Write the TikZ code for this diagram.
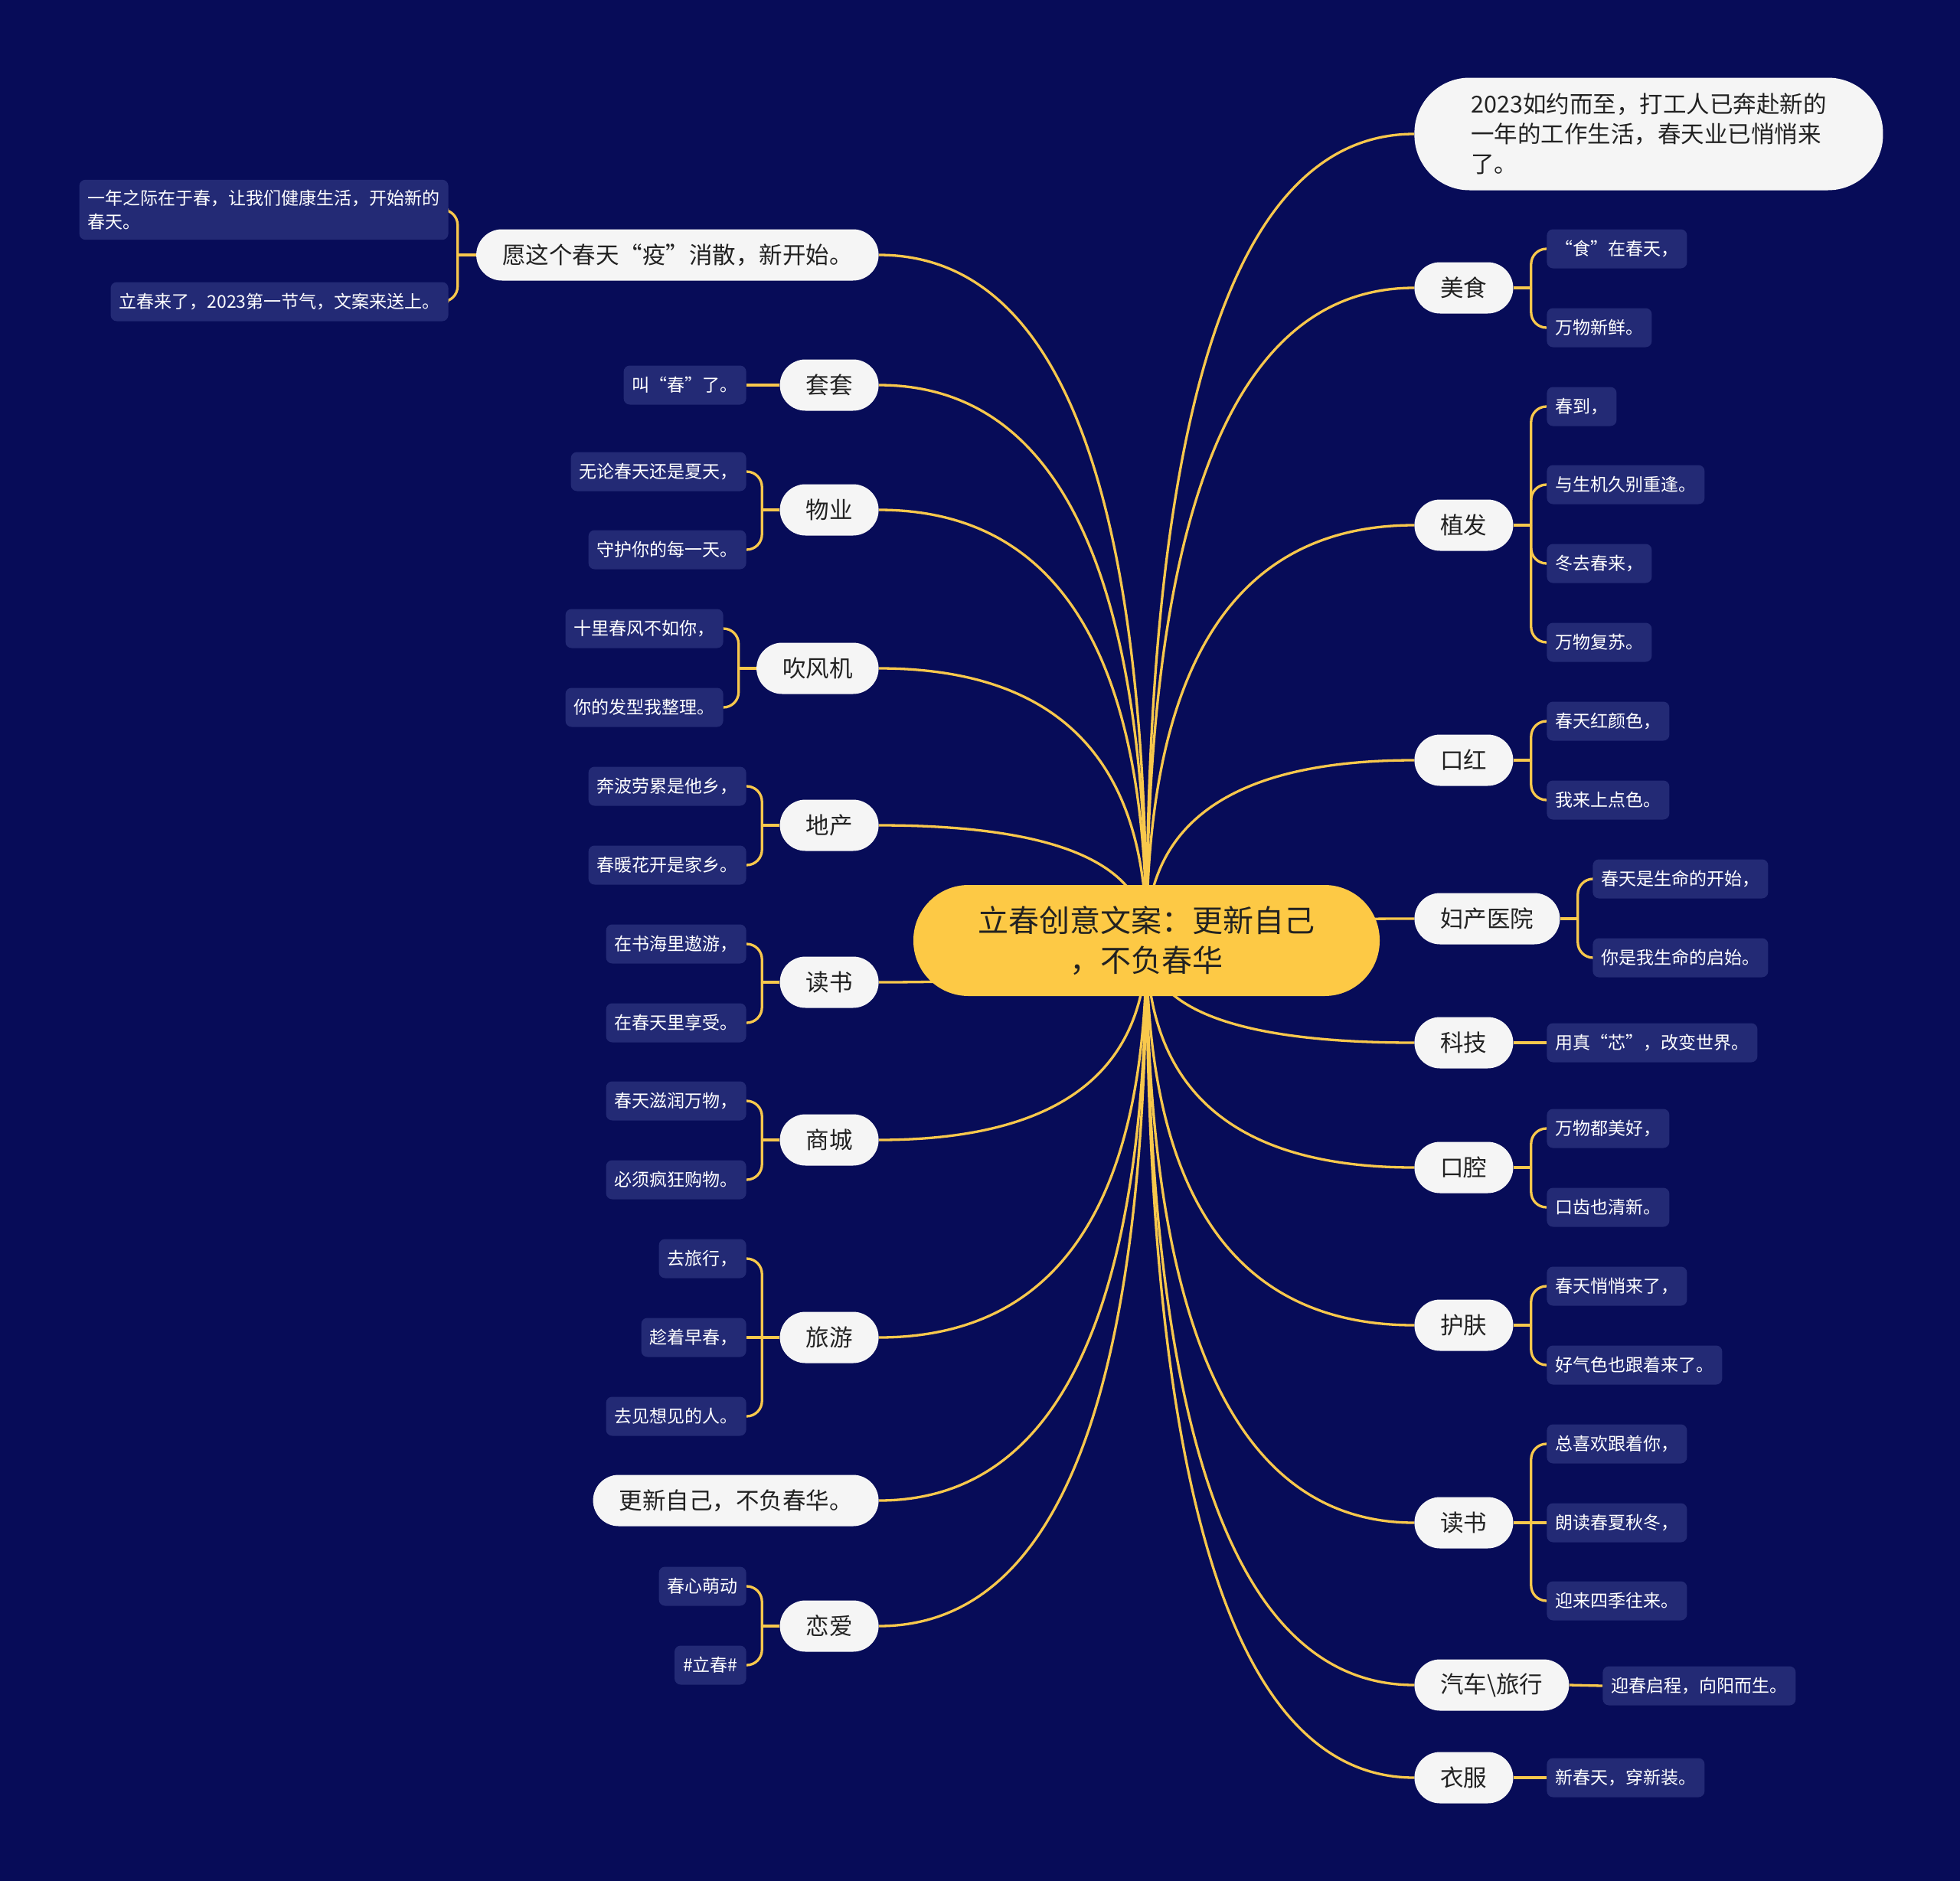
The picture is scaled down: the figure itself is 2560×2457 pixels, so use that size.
\documentclass[tikz,border=0pt]{standalone}
\usepackage{fontspec}
\setmainfont{Noto Sans CJK SC}
\usetikzlibrary{calc}
\definecolor{bgc}{HTML}{070C58}
\definecolor{leafc}{HTML}{232A75}
\definecolor{linec}{HTML}{F8C84C}
\definecolor{ctrc}{HTML}{FDC945}
\definecolor{mainc}{HTML}{F5F5F5}
\definecolor{txtc}{HTML}{222222}
\pgfdeclarelayer{bg}
\pgfdeclarelayer{lines}
\pgfsetlayers{bg,lines,main}
\tikzset{
  mainbox/.style={fill=mainc, text=txtc, rounded corners=16.75pt, minimum height=33.5pt, inner xsep=17pt, inner ysep=0pt, font=\fontsize{15.25}{19.5}\selectfont},
  leafbox/.style={fill=leafc, text=white, rounded corners=4pt, minimum height=25.5pt, inner xsep=5.5pt, inner ysep=6.5pt, font=\fontsize{11.5}{15.5}\selectfont, align=left},
  conn/.style={draw=linec, line width=1.65pt},
  brk/.style={conn, rounded corners=10pt},
}
\newcommand\mconn[1]{%
  \draw[conn] (ctr.center) .. controls ($(ctr.center)!2/3!(ctr.center |- #1)$) and ($(#1)!2/3!(ctr.center |- #1)$) .. (#1);}
\begin{document}
\begin{tikzpicture}[x=0.5pt, y=-0.5pt]
\useasboundingbox (0,0) rectangle (2560,2457);
\begin{pgfonlayer}{bg}
\fill[bgc] (0,0) rectangle (2560,2457);
\end{pgfonlayer}

% center
\node[fill=ctrc, text=txtc, rounded corners=36pt, minimum width=304.5pt, minimum height=72.5pt, align=center, font=\fontsize{20}{26}\selectfont] (ctr) at (1497.5,1228.5) {立春创意文案：更新自己\\，不负春华};

% left main nodes
\node[mainbox, anchor=east] (l1) at (1148,333) {愿这个春天“疫”消散，新开始。};
\node[mainbox, anchor=east] (l2) at (1148,503) {套套};
\node[mainbox, anchor=east] (l3) at (1148,666) {物业};
\node[mainbox, anchor=east] (l4) at (1148,873) {吹风机};
\node[mainbox, anchor=east] (l5) at (1148,1078) {地产};
\node[mainbox, anchor=east] (l6) at (1148,1283) {读书};
\node[mainbox, anchor=east] (l7) at (1148,1489) {商城};
\node[mainbox, anchor=east] (l8) at (1148,1747) {旅游};
\node[mainbox, anchor=east] (l9) at (1148,1960) {更新自己，不负春华。};
\node[mainbox, anchor=east] (l10) at (1148,2124) {恋爱};

% right main nodes
\node[mainbox, anchor=west, minimum width=306pt, minimum height=73.5pt, rounded corners=36pt, align=left] (r1) at (1847,175) {2023如约而至，打工人已奔赴新的\\一年的工作生活，春天业已悄悄来\\了。};
\node[mainbox, anchor=west] (r2) at (1847,376) {美食};
\node[mainbox, anchor=west] (r3) at (1847,686) {植发};
\node[mainbox, anchor=west] (r4) at (1847,993) {口红};
\node[mainbox, anchor=west] (r5) at (1847,1200) {妇产医院};
\node[mainbox, anchor=west] (r6) at (1847,1362) {科技};
\node[mainbox, anchor=west] (r7) at (1847,1525) {口腔};
\node[mainbox, anchor=west] (r8) at (1847,1731) {护肤};
\node[mainbox, anchor=west] (r9) at (1847,1989) {读书};
\node[mainbox, anchor=west] (r10) at (1847,2201) {汽车\textbackslash 旅行};
\node[mainbox, anchor=west] (r11) at (1847,2322) {衣服};

% left leaves
\node[leafbox, anchor=east] (l1a) at (586,274) {一年之际在于春，让我们健康生活，开始新的\\春天。};
\node[leafbox, anchor=east] (l1b) at (586,394) {立春来了，2023第一节气，文案来送上。};
\node[leafbox, anchor=east] (l2a) at (975,503) {叫“春”了。};
\node[leafbox, anchor=east] (l3a) at (975,616) {无论春天还是夏天，};
\node[leafbox, anchor=east] (l3b) at (975,718) {守护你的每一天。};
\node[leafbox, anchor=east] (l4a) at (945,821) {十里春风不如你，};
\node[leafbox, anchor=east] (l4b) at (945,924) {你的发型我整理。};
\node[leafbox, anchor=east] (l5a) at (975,1027) {奔波劳累是他乡，};
\node[leafbox, anchor=east] (l5b) at (975,1130) {春暖花开是家乡。};
\node[leafbox, anchor=east] (l6a) at (975,1233) {在书海里遨游，};
\node[leafbox, anchor=east] (l6b) at (975,1336) {在春天里享受。};
\node[leafbox, anchor=east] (l7a) at (975,1438) {春天滋润万物，};
\node[leafbox, anchor=east] (l7b) at (975,1541) {必须疯狂购物。};
\node[leafbox, anchor=east] (l8a) at (975,1644) {去旅行，};
\node[leafbox, anchor=east] (l8b) at (975,1747) {趁着早春，};
\node[leafbox, anchor=east] (l8c) at (975,1850) {去见想见的人。};
\node[leafbox, anchor=east] (l10a) at (975,2072) {春心萌动};
\node[leafbox, anchor=east] (l10b) at (975,2175) {\#立春\#};

% right leaves
\node[leafbox, anchor=west] (r2a) at (2020,325) {“食”在春天，};
\node[leafbox, anchor=west] (r2b) at (2020,428) {万物新鲜。};
\node[leafbox, anchor=west] (r3a) at (2020,531) {春到，};
\node[leafbox, anchor=west] (r3b) at (2020,633) {与生机久别重逢。};
\node[leafbox, anchor=west] (r3c) at (2020,736) {冬去春来，};
\node[leafbox, anchor=west] (r3d) at (2020,839) {万物复苏。};
\node[leafbox, anchor=west] (r4a) at (2020,942) {春天红颜色，};
\node[leafbox, anchor=west] (r4b) at (2020,1045) {我来上点色。};
\node[leafbox, anchor=west] (r5a) at (2080,1148) {春天是生命的开始，};
\node[leafbox, anchor=west] (r5b) at (2080,1251) {你是我生命的启始。};
\node[leafbox, anchor=west] (r6a) at (2020,1362) {用真“芯”，改变世界。};
\node[leafbox, anchor=west] (r7a) at (2020,1474) {万物都美好，};
\node[leafbox, anchor=west] (r7b) at (2020,1577) {口齿也清新。};
\node[leafbox, anchor=west] (r8a) at (2020,1680) {春天悄悄来了，};
\node[leafbox, anchor=west] (r8b) at (2020,1783) {好气色也跟着来了。};
\node[leafbox, anchor=west] (r9a) at (2020,1886) {总喜欢跟着你，};
\node[leafbox, anchor=west] (r9b) at (2020,1989) {朗读春夏秋冬，};
\node[leafbox, anchor=west] (r9c) at (2020,2091) {迎来四季往来。};
\node[leafbox, anchor=west] (r10a) at (2093,2202) {迎春启程，向阳而生。};
\node[leafbox, anchor=west] (r11a) at (2020,2322) {新春天，穿新装。};

\begin{pgfonlayer}{lines}
% center connectors
\mconn{l1.east}\mconn{l2.east}\mconn{l3.east}\mconn{l4.east}\mconn{l5.east}
\mconn{l6.east}\mconn{l7.east}\mconn{l8.east}\mconn{l9.east}\mconn{l10.east}
\mconn{r1.west}\mconn{r2.west}\mconn{r3.west}\mconn{r4.west}\mconn{r5.west}
\mconn{r6.west}\mconn{r7.west}\mconn{r8.west}\mconn{r9.west}\mconn{r10.west}\mconn{r11.west}

% left brackets
\coordinate (j1) at ($(l1.west)+(-24,0)$);
\draw[conn] (l1.west) -- (j1);
\draw[brk] (j1) |- (l1a.east);
\draw[brk] (j1) |- (l1b.east);
\draw[conn] (l2.west) -- (l2a.east);
\coordinate (j3) at ($(l3.west)+(-23,0)$);
\draw[conn] (l3.west) -- (j3);
\draw[brk] (j3) |- (l3a.east);
\draw[brk] (j3) |- (l3b.east);
\coordinate (j4) at ($(l4.west)+(-23,0)$);
\draw[conn] (l4.west) -- (j4);
\draw[brk] (j4) |- (l4a.east);
\draw[brk] (j4) |- (l4b.east);
\coordinate (j5) at ($(l5.west)+(-23,0)$);
\draw[conn] (l5.west) -- (j5);
\draw[brk] (j5) |- (l5a.east);
\draw[brk] (j5) |- (l5b.east);
\coordinate (j6) at ($(l6.west)+(-23,0)$);
\draw[conn] (l6.west) -- (j6);
\draw[brk] (j6) |- (l6a.east);
\draw[brk] (j6) |- (l6b.east);
\coordinate (j7) at ($(l7.west)+(-23,0)$);
\draw[conn] (l7.west) -- (j7);
\draw[brk] (j7) |- (l7a.east);
\draw[brk] (j7) |- (l7b.east);
\coordinate (j8) at ($(l8.west)+(-23,0)$);
\draw[conn] (l8.west) -- (l8b.east);
\draw[brk] (j8) |- (l8a.east);
\draw[brk] (j8) |- (l8c.east);
\coordinate (j10) at ($(l10.west)+(-23,0)$);
\draw[conn] (l10.west) -- (j10);
\draw[brk] (j10) |- (l10a.east);
\draw[brk] (j10) |- (l10b.east);

% right brackets
\coordinate (k2) at ($(r2.east)+(23,0)$);
\draw[conn] (r2.east) -- (k2);
\draw[brk] (k2) |- (r2a.west);
\draw[brk] (k2) |- (r2b.west);
\coordinate (k3) at ($(r3.east)+(23,0)$);
\draw[conn] (r3.east) -- (k3);
\draw[brk] (k3) |- (r3a.west);
\draw[brk] (k3) |- (r3b.west);
\draw[brk] (k3) |- (r3c.west);
\draw[brk] (k3) |- (r3d.west);
\coordinate (k4) at ($(r4.east)+(23,0)$);
\draw[conn] (r4.east) -- (k4);
\draw[brk] (k4) |- (r4a.west);
\draw[brk] (k4) |- (r4b.west);
\coordinate (k5) at ($(r5.east)+(23,0)$);
\draw[conn] (r5.east) -- (k5);
\draw[brk] (k5) |- (r5a.west);
\draw[brk] (k5) |- (r5b.west);
\draw[conn] (r6.east) -- (r6a.west);
\coordinate (k7) at ($(r7.east)+(23,0)$);
\draw[conn] (r7.east) -- (k7);
\draw[brk] (k7) |- (r7a.west);
\draw[brk] (k7) |- (r7b.west);
\coordinate (k8) at ($(r8.east)+(23,0)$);
\draw[conn] (r8.east) -- (k8);
\draw[brk] (k8) |- (r8a.west);
\draw[brk] (k8) |- (r8b.west);
\coordinate (k9) at ($(r9.east)+(23,0)$);
\draw[conn] (r9.east) -- (r9b.west);
\draw[brk] (k9) |- (r9a.west);
\draw[brk] (k9) |- (r9c.west);
\draw[conn] (r10.east) -- (r10a.west);
\draw[conn] (r11.east) -- (r11a.west);
\end{pgfonlayer}
\end{tikzpicture}
\end{document}
